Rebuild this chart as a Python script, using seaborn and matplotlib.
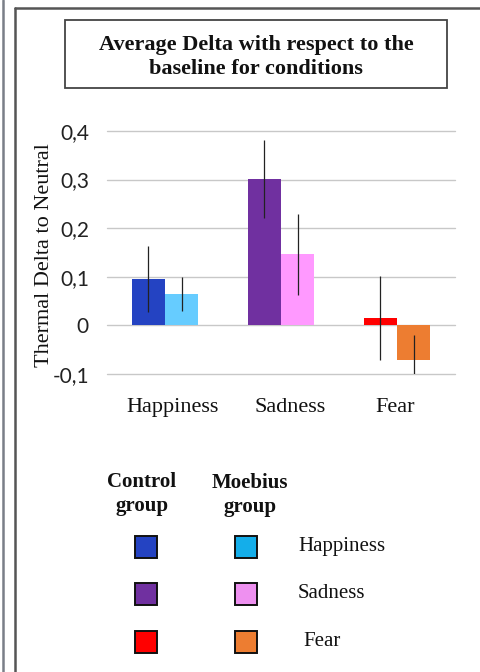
import matplotlib
matplotlib.use("Agg")
import matplotlib.pyplot as plt
from matplotlib.patches import Rectangle
from matplotlib.lines import Line2D
from matplotlib.transforms import ScaledTranslation
import seaborn as sns
import pandas as pd

# Data
emotions = ["Happiness", "Sadness", "Fear"]
groups = ["Control group", "Moebius group"]
control_delta = [0.095, 0.301, 0.015]
moebius_delta = [0.065, 0.146, -0.072]
control_err = [0.068, 0.081, 0.086]
moebius_err = [0.035, 0.084, 0.053]
yticks = [-0.1, 0.0, 0.1, 0.2, 0.3, 0.4]
ytick_labels = ["-0,1", "0", "0,1", "0,2", "0,3", "0,4"]

# Per-bar colours (control, moebius) for each emotion
bar_colors = {
    "Happiness": ("#2443C2", "#66CCFF"),
    "Sadness": ("#7030A0", "#FF99FF"),
    "Fear": ("#FF0000", "#ED7D31"),
}
legend_colors = {
    "Happiness": ("#2443C2", "#14AEEA"),
    "Sadness": ("#7030A0", "#EE90F0"),
    "Fear": ("#FF0000", "#ED7D31"),
}

df = pd.DataFrame({
    "emotion": emotions * 2,
    "group": [groups[0]] * 3 + [groups[1]] * 3,
    "delta": control_delta + moebius_delta,
    "err": control_err + moebius_err,
})

sns.set_theme(style="white")
serif = ["Liberation Serif", "DejaVu Serif"]
sans = ["Lato", "DejaVu Sans"]

fig = plt.figure(figsize=(4.81, 6.72), dpi=100)
fig.patch.set_facecolor("white")
ax = fig.add_axes([0.2225, 0.4435, 0.7235, 0.3616])

sns.barplot(data=df, x="emotion", y="delta", hue="group", order=emotions,
            hue_order=groups, width=0.57, errorbar=None, legend=False,
            saturation=1, ax=ax, zorder=2)

# Recolour each bar and add its error bar
bar_containers = list(ax.containers)
for gi, container in enumerate(bar_containers):
    sub = df[df["group"] == groups[gi]].set_index("emotion").loc[emotions]
    for patch, emo in zip(container.patches, emotions):
        patch.set_facecolor(bar_colors[emo][gi])
        patch.set_edgecolor("none")
        cx = patch.get_x() + patch.get_width() / 2
        ax.errorbar(cx, sub.loc[emo, "delta"], yerr=sub.loc[emo, "err"],
                    fmt="none", ecolor="#222222", elinewidth=0.9, capsize=0,
                    zorder=3)

ax.set_xlim(-0.5, 2.5)
ax.set_ylim(-0.1, 0.4)
ax.set_yticks(yticks)
ax.set_yticklabels(ytick_labels, fontfamily=sans, fontsize=15, color="#222222")
ax.set_xticks(range(len(emotions)))
ax.set_xticklabels(emotions, fontfamily=serif, fontsize=16, color="#111111")
ax.tick_params(axis="y", length=0, pad=13)
ax.tick_params(axis="x", length=0, pad=17)

# Category labels sit slightly off their group centres
for lab, dx in zip(ax.get_xticklabels(), [8, 9, -1.5]):
    lab.set_transform(lab.get_transform() +
                      ScaledTranslation(dx / 100, 0, fig.dpi_scale_trans))

ax.grid(axis="y", color="#C8C8C8", linewidth=1.0, zorder=0)
for gl in ax.get_ygridlines():
    gl.set_clip_on(False)
ax.set_axisbelow(True)
for s in ax.spines.values():
    s.set_visible(False)
ax.set_xlabel("")
ax.set_ylabel("Thermal Delta to Neutral", fontfamily=serif, fontsize=16,
              color="#111111")
ax.yaxis.set_label_coords(-0.152, 0.49)

W, H = 481, 672

def fx(px):
    return px / W

def fy(py):
    return 1 - py / H

# Page frame lines
fig.add_artist(Line2D([fx(3), fx(3)], [0, 1], color="#7A7F88", lw=1.8,
                      transform=fig.transFigure))
fig.add_artist(Line2D([fx(15.5), fx(15.5)], [0, fy(8)], color="#555555", lw=1.8,
                      transform=fig.transFigure))
fig.add_artist(Line2D([fx(15.5), 1], [fy(8), fy(8)], color="#555555", lw=1.8,
                      transform=fig.transFigure))

# Title box
fig.add_artist(Rectangle((fx(65), fy(88)), fx(447) - fx(65), fy(20) - fy(88),
                         transform=fig.transFigure, facecolor="white",
                         edgecolor="#444444", lw=1.3))
fig.text(fx(256), fy(57), "Average Delta with respect to the\nbaseline for conditions",
         ha="center", va="center", fontfamily=serif, fontweight="bold",
         fontsize=16, linespacing=1.22, color="#111111")

# Legend headers
fig.text(fx(142), fy(494), "Control\ngroup", ha="center", va="center",
         fontfamily=serif, fontweight="bold", fontsize=15, linespacing=1.3,
         color="#111111")
fig.text(fx(250), fy(495), "Moebius\ngroup", ha="center", va="center",
         fontfamily=serif, fontweight="bold", fontsize=15, linespacing=1.3,
         color="#111111")

# Legend swatches and labels
row_y = [547, 594, 642]
label_x = [298, 298, 303]
for emo, ry, lx in zip(emotions, row_y, label_x):
    for gi, sx in enumerate([135, 235]):
        fig.add_artist(Rectangle((fx(sx), fy(ry + 11)), fx(22), 22 / H,
                                 transform=fig.transFigure,
                                 facecolor=legend_colors[emo][gi],
                                 edgecolor="#111111", lw=1.4))
    fig.text(fx(lx), fy(ry), emo, ha="left", va="center", fontfamily=serif,
             fontsize=15, color="#111111")

fig.savefig("out.png", dpi=100, facecolor="white")
